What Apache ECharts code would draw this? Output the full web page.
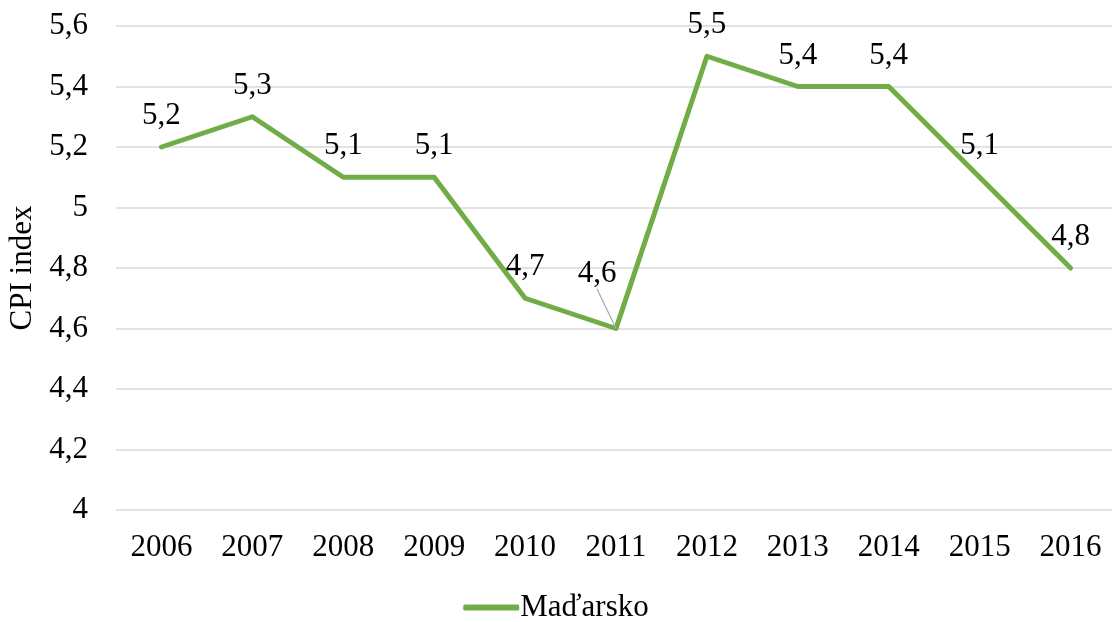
<!DOCTYPE html>
<html>
<head>
<meta charset="utf-8">
<script src="https://cdn.jsdelivr.net/npm/echarts@6/dist/echarts.min.js"></script>
<style>
  html, body { margin: 0; padding: 0; background: #fff; }
  #chart { width: 1112px; height: 622px; }
</style>
</head>
<body>
<div id="chart"></div>
<script>
var years = ['2006', '2007', '2008', '2009', '2010', '2011', '2012', '2013', '2014', '2015', '2016'];
var cpiHungary = [5.2, 5.3, 5.1, 5.1, 4.7, 4.6, 5.5, 5.4, 5.4, 5.1, 4.8];
var seriesName = 'Maďarsko';
var axisName = 'CPI index';

var font = '"Liberation Serif", "Times New Roman", serif';
var fs = 31;
function comma(v) {
    return String(v).replace('.', ',');
}

// the 2011 label is pushed up-left with a leader line, like in the original
var points = cpiHungary.map(function (v, i) {
    if (i === 5) {
        return { value: v, labelLine: { show: true, lineStyle: { color: '#a6a6a6', width: 1.2 } } };
    }
    return v;
});

var chart = echarts.init(document.getElementById('chart'));
chart.setOption({
    animation: false,
    textStyle: { fontFamily: font },
    grid: { left: 116, width: 1000, top: 26, bottom: 112, containLabel: false, outerBoundsMode: 'none' },
    legend: {
        bottom: -6,
        left: 'center',
        data: [seriesName],
        icon: 'roundRect',
        itemWidth: 56,
        itemHeight: 6,
        itemGap: 4,
        itemStyle: { color: '#70ad47' },
        textStyle: { fontFamily: font, fontSize: fs, color: '#000', padding: [0, 0, 0, -4] }
    },
    xAxis: {
        type: 'category',
        data: years,
        boundaryGap: true,
        axisLine: { show: false },
        axisTick: { show: false },
        axisLabel: { fontFamily: font, fontSize: fs, color: '#000', margin: 22, interval: 0 }
    },
    yAxis: {
        type: 'value',
        min: 4,
        max: 5.6,
        interval: 0.2,
        name: axisName,
        nameLocation: 'middle',
        nameGap: 78,
        nameTextStyle: { fontFamily: font, fontSize: fs, color: '#000' },
        axisLine: { show: false },
        axisTick: { show: false },
        splitLine: { lineStyle: { color: '#d9d9d9', width: 1.5 } },
        axisLabel: {
            fontFamily: font, fontSize: fs, color: '#000', margin: 28,
            formatter: function (v) { return comma(+v.toFixed(1)); }
        }
    },
    series: [{
        name: seriesName,
        type: 'line',
        data: points,
        showSymbol: true,
        symbol: 'circle',
        symbolSize: 1,
        itemStyle: { color: '#70ad47' },
        color: '#70ad47',
        lineStyle: { color: '#70ad47', width: 5, cap: 'round', join: 'round' },
        label: {
            show: true,
            position: 'top',
            distance: 15,
            fontFamily: font,
            fontSize: fs,
            color: '#000',
            formatter: function (p) { return comma(p.value); }
        },
        labelLine: { show: false },
        labelLayout: function (p) {
            if (p.dataIndex === 5) {
                return { dx: -19, dy: -24 };
            }
            return {};
        }
    }]
});
</script>
</body>
</html>
